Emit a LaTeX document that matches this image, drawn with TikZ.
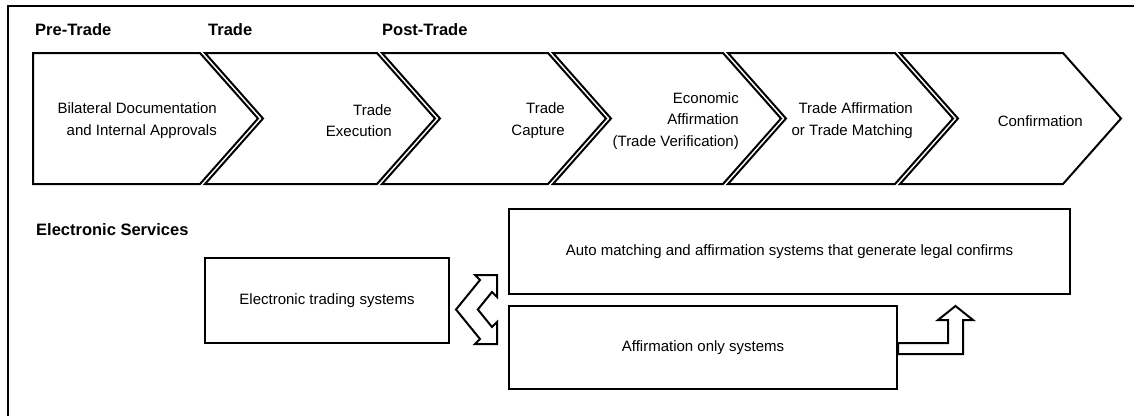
\documentclass[tikz,border=0pt]{standalone}
\usepackage{fontspec}
\setmainfont{Liberation Sans}
\begin{document}
\begin{tikzpicture}[x=1pt,y=-1pt,
  outline/.style={draw=black, line width=2pt, line join=miter},
  chev/.style={outline},
  sysbox/.style={outline, rectangle, inner sep=0pt, font=\fontsize{15}{18}\selectfont},
  blockarr/.style={outline, fill=white},
  heading/.style={anchor=west, inner sep=0pt, font=\bfseries\fontsize{16.5}{20}\selectfont},
  stage/.style={anchor=east, inner sep=0pt, align=right, font=\fontsize{15}{21.5}\selectfont}]
\useasboundingbox (0,0) rectangle (1134,415);

% frame (only top and left edges fall inside the page)
\draw[line width=2pt] (8,420) -- (8,6) -- (1140,6);

% phase headings
\node[heading] (hpre)  at (35,30)  {Pre-Trade};
\node[heading] (htr)   at (208,30) {Trade};
\node[heading] (hpost) at (382,30) {Post-Trade};
\node[heading] (hes)   at (36,230) {Electronic Services};

% process chevrons: top 53, bottom 184, point depth 58
\draw[chev] (33,53) -- (200,53) -- (258,118.5) -- (200,184) -- (33,184) -- cycle;
\draw[chev] (205,53) -- (377,53) -- (435,118.5) -- (377,184) -- (205,184) -- (263,118.5) -- cycle;
\draw[chev] (382,53) -- (548,53) -- (606,118.5) -- (548,184) -- (382,184) -- (440,118.5) -- cycle;
\draw[chev] (553,53) -- (723,53) -- (781,118.5) -- (723,184) -- (553,184) -- (611,118.5) -- cycle;
\draw[chev] (728,53) -- (895,53) -- (953,118.5) -- (895,184) -- (728,184) -- (786,118.5) -- cycle;
\draw[chev] (900,53) -- (1063,53) -- (1121,118.5) -- (1063,184) -- (900,184) -- (958,118.5) -- cycle;

% stage labels
\node[stage] (s1) at (217,120.5) {Bilateral Documentation\\and Internal Approvals};
\node[stage] (s2) at (392,120.5) {Trade\\Execution};
\node[stage] (s3) at (565,120.5) {Trade\\Capture};
\node[stage] (s4) at (739,121)   {Economic\\Affirmation\\(Trade Verification)};
\node[stage] (s5) at (913,120.5) {Trade Affirmation\\or Trade Matching};
\node[stage] (s6) at (1083,121)  {Confirmation};

% electronic service boxes
\node[sysbox, minimum width=244pt, minimum height=85pt] (ets)  at (327,300.5)   {Electronic trading systems};
\node[sysbox, minimum width=561pt, minimum height=85pt] (auto) at (789.5,251.5) {Auto matching and affirmation systems that generate legal confirms};
\node[sysbox, minimum width=388pt, minimum height=83pt] (aff)  at (703,347.5)   {Affirmation only systems};

% two-headed bent arrow between the trading systems and the right-hand boxes
\coordinate (bend) at (456,309.5);
\draw[blockarr] (475,275) -- (497,275) -- (497,297) -- (492,292) -- (477.8,309.5)
  -- (492,327) -- (497,322) -- (497,344) -- (475,344) -- (480,339) -- (bend)
  -- (480,280) -- cycle;

% bent up arrow from the affirmation box towards the auto matching box
\draw[blockarr] ([yshift=4.5pt]aff.east) -- ++(50,0) -- ++(0,-23) -- ++(-10,0)
  -- ++(17.5,-14) -- ++(17.5,14) -- ++(-10,0) -- ++(0,34) -- ++(-65,0) -- cycle;
\end{tikzpicture}
\end{document}
